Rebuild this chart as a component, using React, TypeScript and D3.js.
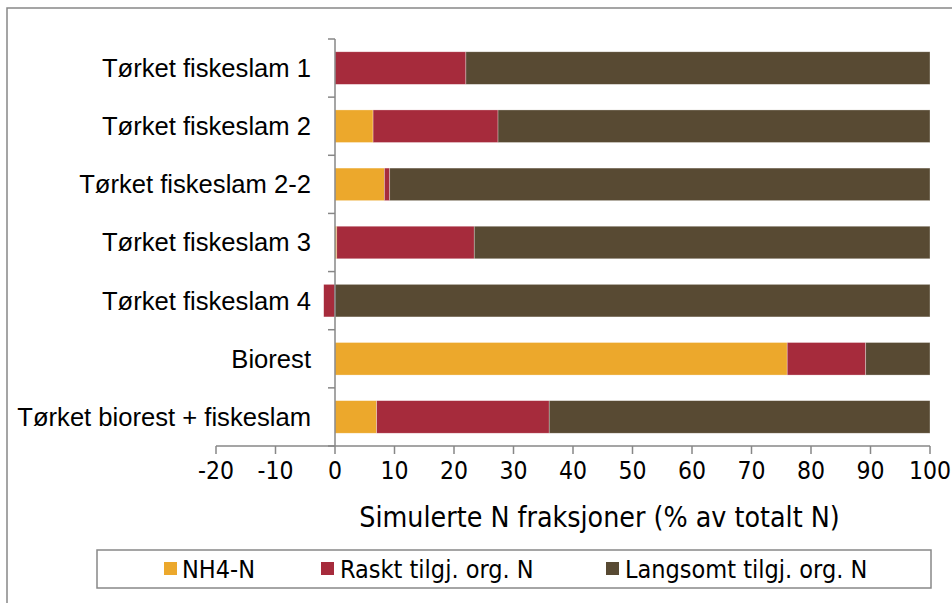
import React from "react";
import * as d3 from "d3";

const categories = [
  "Tørket fiskeslam 1",
  "Tørket fiskeslam 2",
  "Tørket fiskeslam 2-2",
  "Tørket fiskeslam 3",
  "Tørket fiskeslam 4",
  "Biorest",
  "Tørket biorest + fiskeslam",
];
const nh4 = [0, 6.4, 8.3, 0.3, 0, 76.0, 7.0];
const raskt = [22.0, 21.0, 0.9, 23.1, -1.9, 13.2, 29.0];
const langsomt = [78.0, 72.6, 90.8, 76.6, 100, 10.8, 64.0];
const seriesNames = ["NH4-N", "Raskt tilgj. org. N", "Langsomt tilgj. org. N"];
const colors = ["#ECA82C", "#A62B3C", "#584A33"];
const xTicks = [-20, -10, 0, 10, 20, 30, 40, 50, 60, 70, 80, 90, 100];
const xTitle = "Simulerte N fraksjoner (% av totalt N)";

const W = 952;
const H = 603;
const condensed = "'DejaVu Sans Condensed', 'DejaVu Sans', sans-serif";
const catFont = "'Liberation Sans', Arial, sans-serif";

export default function App() {
  const x = d3.scaleLinear().domain([-20, 100]).range([216, 930]);
  const y = d3.scaleBand<string>().domain(categories).range([39, 446]).paddingInner(0.44).paddingOuter(0.22);
  const band = d3.scaleBand<string>().domain(categories).range([39, 446]);
  const values = [nh4, raskt, langsomt];

  const bars: any[] = [];
  categories.forEach((c, i) => {
    let pos = 0;
    let neg = 0;
    values.forEach((vals, s) => {
      const v = vals[i];
      if (v === 0) return;
      let x0, x1;
      if (v >= 0) {
        x0 = pos;
        x1 = pos + v;
        pos = x1;
      } else {
        x1 = neg;
        x0 = neg + v;
        neg = x0;
      }
      bars.push(
        <rect
          key={`${i}-${s}`}
          x={x(x0)}
          y={y(c)}
          width={x(x1) - x(x0)}
          height={y.bandwidth()}
          fill={colors[s]}
          stroke="#ffffff"
          strokeOpacity={0.5}
          strokeWidth={0.6}
        />
      );
    });
  });

  const axisColor = "#878787";
  const bandEdges = categories.map((c) => band(c) as number).concat([446]);

  const legendItems = [
    { mx: 164, tx: 182 },
    { mx: 321, tx: 340 },
    { mx: 606, tx: 625 },
  ];

  return (
    <svg
      width={W}
      height={H}
      style={{ position: "absolute", left: 0, top: 0, background: "#fff" }}
    >
      <rect x={7} y={8} width={W} height={H} fill="#fff" stroke="#888" strokeWidth={1.5} />
      {bars}
      {/* y axis */}
      <line x1={x(0)} x2={x(0)} y1={39} y2={446} stroke={axisColor} strokeWidth={1.5} />
      {bandEdges.map((e, i) => (
        <line key={i} x1={x(0) - 7} x2={x(0)} y1={e} y2={e} stroke={axisColor} strokeWidth={1.5} />
      ))}
      {categories.map((c) => (
        <text
          key={c}
          x={311}
          y={(y(c) as number) + y.bandwidth() / 2}
          dy="0.35em"
          textAnchor="end"
          fontFamily={catFont}
          fontSize={25.6}
          fill="#000"
        >
          {c}
        </text>
      ))}
      {/* x axis */}
      <line x1={x(-20)} x2={x(100)} y1={446} y2={446} stroke={axisColor} strokeWidth={1.5} />
      {xTicks.map((t) => (
        <g key={t}>
          <line x1={x(t)} x2={x(t)} y1={446} y2={454} stroke={axisColor} strokeWidth={1.5} />
          <text
            x={x(t)}
            y={470}
            dy="0.35em"
            textAnchor="middle"
            fontFamily={condensed}
            fontStretch="condensed"
            fontSize={24.5}
            fill="#000"
          >
            {t}
          </text>
        </g>
      ))}
      <text
        x={(357 + 842) / 2}
        y={517}
        dy="0.35em"
        textAnchor="middle"
        fontFamily={condensed}
        fontStretch="condensed"
        fontSize={28.3}
        fill="#000"
      >
        {xTitle}
      </text>
      {/* legend */}
      <rect x={97} y={550} width={834} height={38} fill="#fff" stroke="#888" strokeWidth={1.5} />
      {seriesNames.map((n, i) => (
        <g key={n}>
          <rect x={legendItems[i].mx} y={562} width={13} height={13} fill={colors[i]} />
          <text
            x={legendItems[i].tx}
            y={569}
            dy="0.35em"
            fontFamily={condensed}
            fontStretch="condensed"
            fontSize={25}
            fill="#000"
          >
            {n}
          </text>
        </g>
      ))}
    </svg>
  );
}
